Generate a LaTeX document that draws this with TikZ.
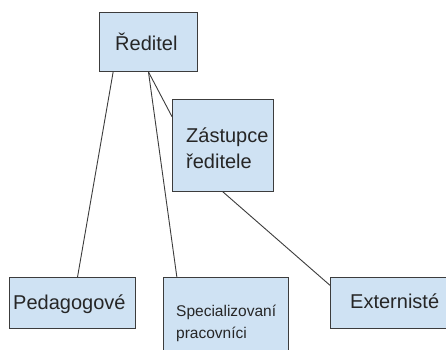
\documentclass[tikz,border=0pt]{standalone}
\usepackage{fontspec}
\setmainfont{Liberation Sans}
\usetikzlibrary{calc}
\definecolor{boxfill}{HTML}{CFE2F3}
\definecolor{boxline}{HTML}{3C3C3C}
\begin{document}
\begin{tikzpicture}[x=1pt,y=-1pt,
  box/.style={draw=boxline, fill=boxfill, line width=0.9pt, inner sep=0pt, rectangle, anchor=north west},
  conn/.style={draw=boxline, line width=0.9pt},
  big/.style={font=\fontsize{20}{26}\selectfont, inner sep=0pt, anchor=base west, text=black!85},
  small/.style={font=\fontsize{15.5}{22}\selectfont, inner sep=0pt, anchor=base west, text=black!85}]
\useasboundingbox (0,0) rectangle (446,349);
\clip (0,0) rectangle (446,349);
\fill[white] (0,0) rectangle (446,349);
% boxes
\node[box, minimum width=98pt, minimum height=59pt] (r) at (99,12) {};
\node[box, minimum width=101pt, minimum height=92pt] (z) at (172,99) {};
\node[box, minimum width=126pt, minimum height=51pt] (p) at (9,277) {};
\node[box, minimum width=125pt, minimum height=85pt] (s) at (163,277) {};
\node[box, minimum width=122pt, minimum height=51pt] (e) at (330,277) {};
% connectors
\draw[conn] ($(r.south west)!0.143!(r.south east)$) -- ($(p.north west)!0.54!(p.north east)$);
\draw[conn] (r.south) -- ($(s.north west)!0.11!(s.north east)$);
\draw[conn] (r.south) -- ($(z.north west)!0.19!(z.south west)$);
\draw[conn] (z.south) -- ($(e.north west)!0.16!(e.south west)$);
% texts
\node[big] (tr) at (115,50) {Ředitel};
\node[big] (tz1) at (186,142) {Zástupce};
\node[big] (tz2) at (186,168) {ředitele};
\node[big] (tp) at (13,309) {Pedagogové};
\node[small] (ts1) at (176,316) {Specializovaní};
\node[small] (ts2) at (176,338) {pracovníci};
\node[big] (te) at (350,308) {Externisté};
\end{tikzpicture}
\end{document}
